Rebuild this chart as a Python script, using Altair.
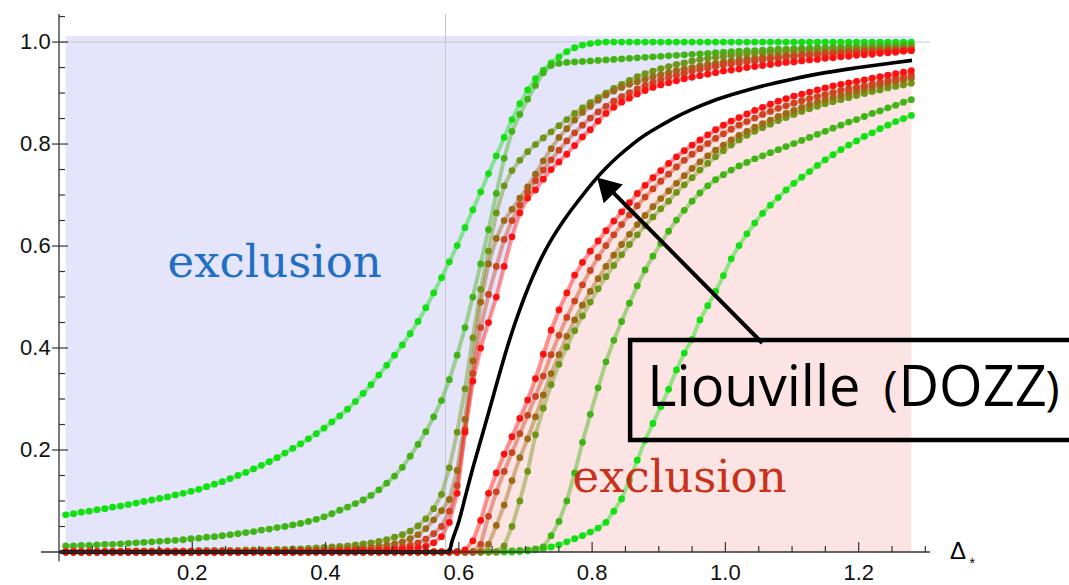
import altair as alt
import pandas as pd

# ---------------- data ----------------
X_START = 0.01
X_STEP = 0.01175
N_PTS = 109
X_GRID = [round(X_START + X_STEP * k, 5) for k in range(N_PTS)]

# left (upper-bound) family, green -> red
A_L = [0.073, 0.075, 0.078, 0.080, 0.083, 0.085, 0.088, 0.090, 0.093, 0.096,
       0.099, 0.102, 0.105, 0.108, 0.112, 0.115, 0.119, 0.123, 0.128, 0.133,
       0.138, 0.144, 0.150, 0.156, 0.163, 0.170, 0.177, 0.185, 0.194, 0.203,
       0.212, 0.222, 0.232, 0.243, 0.255, 0.267, 0.280, 0.295, 0.311, 0.328,
       0.347, 0.366, 0.386, 0.406, 0.428, 0.452, 0.479, 0.508, 0.538, 0.569,
       0.601, 0.636, 0.671, 0.706, 0.742, 0.777, 0.813, 0.848, 0.879, 0.906,
       0.928, 0.945, 0.959, 0.971, 0.981, 0.989, 0.994, 0.997, 0.999, 1.0] + [1.0] * 39
B_L = [0.012, 0.012, 0.013, 0.013, 0.014, 0.015, 0.015, 0.016, 0.017, 0.018,
       0.019, 0.020, 0.021, 0.022, 0.023, 0.024, 0.026, 0.027, 0.029, 0.030,
       0.032, 0.034, 0.036, 0.038, 0.040, 0.043, 0.045, 0.048, 0.050, 0.053,
       0.056, 0.060, 0.064, 0.069, 0.075, 0.082, 0.088, 0.095, 0.102, 0.111,
       0.122, 0.135, 0.149, 0.166, 0.188, 0.211, 0.236, 0.265, 0.297, 0.338,
       0.386, 0.440, 0.500, 0.565, 0.632, 0.703, 0.772, 0.825, 0.858, 0.888,
       0.915, 0.940, 0.954, 0.958, 0.960, 0.961, 0.962, 0.963, 0.964, 0.965,
       0.966, 0.967, 0.968, 0.969, 0.970, 0.971, 0.972, 0.973, 0.974, 0.975,
       0.976, 0.977, 0.978, 0.979, 0.980, 0.981, 0.982, 0.983, 0.983, 0.984,
       0.985, 0.986, 0.986, 0.987, 0.988, 0.988, 0.989, 0.989, 0.990, 0.990,
       0.991, 0.991, 0.992, 0.992, 0.993, 0.993, 0.993, 0.994, 0.994]
C_L = [0.001, 0.001, 0.001, 0.001, 0.001, 0.001, 0.001, 0.001, 0.001, 0.002,
       0.002, 0.002, 0.002, 0.002, 0.002, 0.002, 0.002, 0.003, 0.003, 0.003,
       0.003, 0.003, 0.003, 0.004, 0.004, 0.004, 0.004, 0.005, 0.005, 0.006,
       0.006, 0.007, 0.008, 0.009, 0.010, 0.011, 0.012, 0.014, 0.016, 0.018,
       0.021, 0.024, 0.029, 0.034, 0.041, 0.051, 0.065, 0.085, 0.113, 0.165,
       0.235, 0.320, 0.420, 0.515, 0.590, 0.665, 0.718, 0.748, 0.768, 0.785,
       0.799, 0.812, 0.824, 0.836, 0.848, 0.860, 0.871, 0.881, 0.891, 0.900,
       0.909, 0.917, 0.925, 0.932, 0.938, 0.943, 0.948, 0.952, 0.956, 0.959,
       0.963, 0.966, 0.968, 0.970, 0.972, 0.974, 0.975, 0.977, 0.978, 0.979,
       0.980, 0.981, 0.982, 0.983, 0.984, 0.984, 0.985, 0.985, 0.986, 0.986,
       0.987, 0.987, 0.988, 0.988, 0.989, 0.989, 0.990, 0.990, 0.990]
D_L = [0.0] * 9 + [0.001] * 15 + [0.002] * 6 + [
       0.003, 0.003, 0.003, 0.004, 0.004, 0.005, 0.006, 0.007, 0.008, 0.009,
       0.011, 0.013, 0.016, 0.020, 0.026, 0.034, 0.046, 0.063, 0.081, 0.103,
       0.160, 0.260, 0.375, 0.490, 0.565, 0.615, 0.650, 0.672, 0.694, 0.716,
       0.741, 0.767, 0.791, 0.813, 0.830, 0.847, 0.862, 0.874, 0.886, 0.896,
       0.904, 0.911, 0.917, 0.922, 0.927, 0.932, 0.936, 0.940, 0.944, 0.947,
       0.950, 0.953, 0.956, 0.958, 0.961, 0.963, 0.965, 0.967, 0.968, 0.970,
       0.971, 0.973, 0.974, 0.975, 0.976, 0.977, 0.978, 0.979, 0.980, 0.981,
       0.982, 0.982, 0.983, 0.984, 0.984, 0.985, 0.985, 0.986, 0.986]
E_L = [0.0] * 30 + [
       0.001, 0.001, 0.001, 0.001, 0.002, 0.002, 0.002, 0.003, 0.003, 0.004,
       0.005, 0.006, 0.008, 0.010, 0.013, 0.018, 0.025, 0.036, 0.050, 0.080,
       0.130, 0.240, 0.350, 0.440, 0.505, 0.560, 0.613, 0.650, 0.680, 0.706,
       0.728, 0.749, 0.769, 0.788, 0.806, 0.822, 0.837, 0.851, 0.863, 0.874,
       0.884, 0.893, 0.901, 0.908, 0.915, 0.921, 0.926, 0.931, 0.935, 0.939,
       0.943, 0.946, 0.949, 0.952, 0.955, 0.957, 0.959, 0.961, 0.963, 0.965,
       0.967, 0.968, 0.970, 0.971, 0.973, 0.974, 0.975, 0.976, 0.977, 0.978,
       0.979, 0.980, 0.981, 0.981, 0.982, 0.983, 0.983, 0.984, 0.984]
F_L = [0.0] * 35 + [0.001] * 5 + [
       0.002, 0.003, 0.004, 0.005, 0.006, 0.008, 0.011, 0.018, 0.030, 0.058,
       0.115, 0.235, 0.335, 0.400, 0.450, 0.500, 0.560, 0.618, 0.665, 0.694,
       0.710, 0.731, 0.750, 0.765, 0.780, 0.797, 0.814, 0.828, 0.845, 0.860,
       0.872, 0.882, 0.890, 0.898, 0.905, 0.911, 0.916, 0.920, 0.924, 0.928,
       0.931, 0.934, 0.937, 0.940, 0.943, 0.945, 0.947, 0.950, 0.952, 0.954,
       0.956, 0.958, 0.960, 0.961, 0.963, 0.965, 0.966, 0.968, 0.969, 0.971,
       0.972, 0.974, 0.975, 0.976, 0.978, 0.979, 0.980, 0.982, 0.983]

# right (lower-bound) family, red -> green
F_R = [0.0] * 51 + [0.004] + [
       0.022, 0.062, 0.115, 0.155, 0.192, 0.226, 0.262, 0.298,
       0.340, 0.388, 0.435, 0.475, 0.508, 0.543, 0.568, 0.590, 0.610, 0.630,
       0.649, 0.667, 0.685, 0.703, 0.719, 0.734, 0.748, 0.762, 0.775, 0.787,
       0.798, 0.808, 0.818, 0.828, 0.837, 0.845, 0.852, 0.859, 0.866, 0.872,
       0.878, 0.884, 0.889, 0.894, 0.898, 0.902, 0.906, 0.910, 0.914, 0.917,
       0.920, 0.923, 0.926, 0.929, 0.932, 0.935, 0.938, 0.941, 0.944]
E_R = [0.0] * 53 + [
       0.015, 0.070, 0.118, 0.158, 0.195, 0.232, 0.268,
       0.305, 0.345, 0.387, 0.425, 0.460, 0.492, 0.524, 0.552, 0.578, 0.601,
       0.622, 0.642, 0.661, 0.679, 0.696, 0.712, 0.727, 0.741, 0.755, 0.768,
       0.780, 0.791, 0.801, 0.811, 0.820, 0.829, 0.837, 0.844, 0.851, 0.858,
       0.864, 0.870, 0.875, 0.880, 0.885, 0.889, 0.893, 0.897, 0.901, 0.905,
       0.908, 0.911, 0.914, 0.917, 0.921, 0.924, 0.928, 0.931, 0.935]
D_R = [0.0] * 54 + [
       0.015, 0.052, 0.092, 0.140, 0.185, 0.222,
       0.265, 0.308, 0.350, 0.387, 0.423, 0.455, 0.484, 0.511, 0.536, 0.560,
       0.582, 0.603, 0.623, 0.642, 0.660, 0.677, 0.693, 0.708, 0.723, 0.738,
       0.752, 0.765, 0.777, 0.788, 0.798, 0.808, 0.817, 0.825, 0.833, 0.840,
       0.847, 0.854, 0.860, 0.866, 0.872, 0.877, 0.882, 0.887, 0.891, 0.895,
       0.899, 0.903, 0.907, 0.911, 0.915, 0.918, 0.922, 0.925, 0.929]
C_R = [0.0] * 56 + [
       0.012, 0.050, 0.100, 0.158,
       0.230, 0.282, 0.328, 0.368, 0.402, 0.434, 0.463, 0.490, 0.516, 0.540,
       0.562, 0.583, 0.603, 0.622, 0.640, 0.657, 0.673, 0.688, 0.705, 0.720,
       0.734, 0.749, 0.762, 0.775, 0.787, 0.798, 0.808, 0.817, 0.825, 0.832,
       0.839, 0.846, 0.852, 0.858, 0.864, 0.869, 0.874, 0.879, 0.883, 0.887,
       0.891, 0.895, 0.899, 0.903, 0.906, 0.910, 0.913, 0.916, 0.919]
B_R = [0.0] * 56 + [
       0.001, 0.002, 0.003, 0.004,
       0.006, 0.010, 0.032, 0.060, 0.100, 0.155, 0.215, 0.270, 0.322, 0.373,
       0.415, 0.452, 0.488, 0.522, 0.553, 0.580, 0.605, 0.629, 0.651, 0.670,
       0.688, 0.704, 0.718, 0.730, 0.740, 0.749, 0.757, 0.764, 0.771, 0.777,
       0.783, 0.789, 0.795, 0.801, 0.807, 0.813, 0.819, 0.825, 0.831, 0.837,
       0.843, 0.848, 0.854, 0.860, 0.865, 0.871, 0.876, 0.882, 0.887]
A_R = [0.0] * 58 + [
       0.001, 0.002,
       0.004, 0.007, 0.010, 0.014, 0.020, 0.026, 0.032, 0.039, 0.047, 0.058,
       0.080, 0.104, 0.141, 0.180, 0.219, 0.252, 0.285, 0.319, 0.357, 0.390,
       0.417, 0.455, 0.483, 0.511, 0.542, 0.575, 0.601, 0.624, 0.645, 0.664,
       0.680, 0.695, 0.710, 0.723, 0.735, 0.746, 0.758, 0.769, 0.779, 0.789,
       0.798, 0.806, 0.815, 0.822, 0.830, 0.837, 0.844, 0.850, 0.856]

# Liouville (DOZZ) curve
BLACK_X = [0.0, 0.585, 0.59, 0.60, 0.61, 0.62, 0.63, 0.64, 0.65, 0.66, 0.67, 0.68,
           0.69, 0.70, 0.71, 0.72, 0.73, 0.74, 0.76, 0.78, 0.80, 0.82, 0.84, 0.86,
           0.88, 0.90, 0.92, 0.95, 0.98, 1.01, 1.05, 1.10, 1.15, 1.20, 1.25, 1.28]
BLACK_Y = [0.0, 0.0, 0.022, 0.06, 0.11, 0.16, 0.206, 0.252, 0.298, 0.345, 0.39, 0.432,
           0.47, 0.505, 0.537, 0.566, 0.592, 0.615, 0.655, 0.69, 0.723, 0.752, 0.777, 0.799,
           0.818, 0.834, 0.849, 0.868, 0.884, 0.897, 0.912, 0.927, 0.94, 0.95, 0.959, 0.964]

SERIES_NAMES = ["A_L", "A_R", "B_L", "B_R", "C_L", "C_R", "D_L", "D_R", "E_L", "E_R", "F_L", "F_R"]
SERIES_VALUES = [A_L, A_R, B_L, B_R, C_L, C_R, D_L, D_R, E_L, E_R, F_L, F_R]
SERIES_COLORS = ["#12e012", "#12e012", "#40b414", "#40b414", "#6e9616", "#6e9616",
                 "#9c6a14", "#9c6a14", "#cc4420", "#cc4420", "#ff1010", "#ff1010"]

X_MAJOR = [0.2, 0.4, 0.6, 0.8, 1.0, 1.2]
X_LABELS = ["0.2", "0.4", "0.6", "0.8", "1.0", "1.2"]
X_MINOR = [0.05, 0.1, 0.15, 0.25, 0.3, 0.35, 0.45, 0.5, 0.55, 0.65, 0.7, 0.75,
           0.85, 0.9, 0.95, 1.05, 1.1, 1.15, 1.25, 1.3]
Y_MAJOR = [0.2, 0.4, 0.6, 0.8, 1.0]
Y_LABELS = ["0.2", "0.4", "0.6", "0.8", "1.0"]
Y_MINOR = [0.05, 0.1, 0.15, 0.25, 0.3, 0.35, 0.45, 0.5, 0.55, 0.65, 0.7, 0.75,
           0.85, 0.9, 0.95, 1.05]

for nm, vals in zip(SERIES_NAMES, SERIES_VALUES):
    assert len(vals) == N_PTS, (nm, len(vals))

# ---------------- build tables ----------------
rows = []
for i, (nm, vals) in enumerate(zip(SERIES_NAMES, SERIES_VALUES)):
    for xv, yv in zip(X_GRID, vals):
        rows.append({"x": xv, "y": yv, "curve": nm, "ord": i})
curves = pd.DataFrame(rows)

blue = pd.DataFrame({"x": X_GRID, "lo": F_L, "hi": [1.012] * N_PTS})
pink = pd.DataFrame({"x": X_GRID, "lo": [0.0] * N_PTS, "hi": F_R})
black = pd.DataFrame({"x": BLACK_X, "y": BLACK_Y})

xs = alt.Scale(domain=[0, 1.307], nice=False, zero=False)
ys = alt.Scale(domain=[0, 1.055], nice=False, zero=False)
cscale = alt.Scale(domain=SERIES_NAMES, range=SERIES_COLORS)


def qx(f="x"):
    return alt.X(f + ":Q", scale=xs, axis=None)


def qy(f="y"):
    return alt.Y(f + ":Q", scale=ys, axis=None)


# shaded regions
blue_layer = alt.Chart(blue).mark_area(color="#e4e4fa", opacity=1).encode(
    x=qx(), y=qy("lo"), y2="hi:Q")
pink_layer = alt.Chart(pink).mark_area(color="#fde4e4", opacity=1).encode(
    x=qx(), y=qy("lo"), y2="hi:Q")

# grid lines
grid_v = alt.Chart(pd.DataFrame({"x": [0.58], "y": [0.0], "y2": [1.055]})).mark_rule(
    color="#c6c6d0", strokeWidth=1).encode(x=qx(), y=qy(), y2="y2:Q")
grid_h = alt.Chart(pd.DataFrame({"x": [0.0], "x2": [1.307], "y": [1.0]})).mark_rule(
    color="#c6c6d0", strokeWidth=1).encode(x=qx(), x2="x2:Q", y=qy())

# curves
lines = alt.Chart(curves).mark_line(strokeWidth=4, opacity=0.45, strokeCap="round").encode(
    x=qx(), y=qy(), color=alt.Color("curve:N", scale=cscale, legend=None),
    order=alt.Order("x:Q"))
dots = alt.Chart(curves).mark_circle(size=46, opacity=1).encode(
    x=qx(), y=qy(), color=alt.Color("curve:N", scale=cscale, legend=None),
    order=alt.Order("ord:Q"))
black_line = alt.Chart(black).mark_line(color="black", strokeWidth=3.6,
                                        interpolate="monotone").encode(x=qx(), y=qy())

# axes (drawn as rules so the ticks can point inward)
axis_x = alt.Chart(pd.DataFrame({"x": [-0.027], "x2": [1.307], "y": [0.0]})).mark_rule(
    color="#333", strokeWidth=1.3).encode(x=qx(), x2="x2:Q", y=qy())
axis_y = alt.Chart(pd.DataFrame({"x": [0.0], "y": [-0.018], "y2": [1.055]})).mark_rule(
    color="#333", strokeWidth=1.3).encode(x=qx(), y=qy(), y2="y2:Q")
xt = pd.DataFrame({"x": X_MAJOR + X_MINOR,
                   "y": [0.0] * (len(X_MAJOR) + len(X_MINOR)),
                   "y2": [0.0196] * len(X_MAJOR) + [0.0118] * len(X_MINOR)})
yt = pd.DataFrame({"y": Y_MAJOR + Y_MINOR,
                   "x": [-0.0105] * len(Y_MAJOR) + [0.0] * len(Y_MINOR),
                   "x2": [0.0135] * len(Y_MAJOR) + [0.009] * len(Y_MINOR)})
ticks_x = alt.Chart(xt).mark_rule(color="#333", strokeWidth=1.2).encode(
    x=qx(), y=qy(), y2="y2:Q")
ticks_y = alt.Chart(yt).mark_rule(color="#333", strokeWidth=1.2).encode(
    x=qx(), x2="x2:Q", y=qy())

xlab = alt.Chart(pd.DataFrame({"x": X_MAJOR, "y": [-0.0225] * len(X_MAJOR), "t": X_LABELS})).mark_text(
    font="Liberation Sans", fontSize=22, color="#111", align="center", baseline="top").encode(
    x=qx(), y=qy(), text="t:N")
ylab = alt.Chart(pd.DataFrame({"x": [-0.0125] * len(Y_MAJOR), "y": Y_MAJOR, "t": Y_LABELS})).mark_text(
    font="Liberation Sans", fontSize=22, color="#111", align="right", baseline="middle").encode(
    x=qx(), y=qy(), text="t:N")


def label(txt, x, y, size, color, font, align="left"):
    return alt.Chart(pd.DataFrame({"x": [x], "y": [y], "t": [txt]})).mark_text(
        fontSize=size, color=color, font=font, align=align, baseline="alphabetic").encode(
        x=qx(), y=qy(), text="t:N")


texts = [
    label("exclusion", 0.3236, 0.54, 45, "#1f6fc5", "DejaVu Serif", "center"),
    label("exclusion", 0.9313, 0.117, 45, "#c8321a", "DejaVu Serif", "center"),
    label("Liouville", 0.8828, 0.286, 56, "black", "Open Sans"),
    label("(", 1.2373, 0.289, 48, "black", "Open Sans"),
    label("DOZZ", 1.2597, 0.286, 56, "black", "Open Sans"),
    label(")", 1.4805, 0.289, 48, "black", "Open Sans"),
    label("Δ", 1.337, -0.0147, 24, "black", "Liberation Sans"),
    label("*", 1.3663, -0.0305, 14, "black", "Liberation Sans"),
]

box = alt.Chart(pd.DataFrame({"x": [0.857], "x2": [1.53], "y": [0.2196], "y2": [0.4157]})).mark_rect(
    fillOpacity=0, stroke="black", strokeWidth=4.5).encode(x=qx(), x2="x2:Q", y=qy(), y2="y2:Q")
arrow_line = alt.Chart(pd.DataFrame({"x": [1.0553], "x2": [0.821], "y": [0.4098], "y2": [0.719]})).mark_rule(
    color="black", strokeWidth=4).encode(x=qx(), x2="x2:Q", y=qy(), y2="y2:Q")
arrow_head = alt.Chart(pd.DataFrame({"x": [0.8075], "y": [0.7343]})).mark_point(
    shape="M0,0 L-0.585,1 L0.585,1 Z", size=2116, angle=315.35, filled=True,
    fill="black", opacity=1, strokeWidth=0).encode(x=qx(), y=qy())

chart = alt.layer(
    blue_layer, pink_layer, grid_v, grid_h, lines, dots, black_line,
    axis_x, axis_y, ticks_x, ticks_y, xlab, ylab, box, arrow_line, arrow_head, *texts
).properties(
    width=871, height=538,
    padding={"left": 59, "top": 14, "right": 139, "bottom": 33},
    autosize=alt.AutoSizeParams(type="none"),
    background="white",
).configure_view(strokeWidth=0)

chart.save("out.html", embed_options={"renderer": "svg", "actions": False})
